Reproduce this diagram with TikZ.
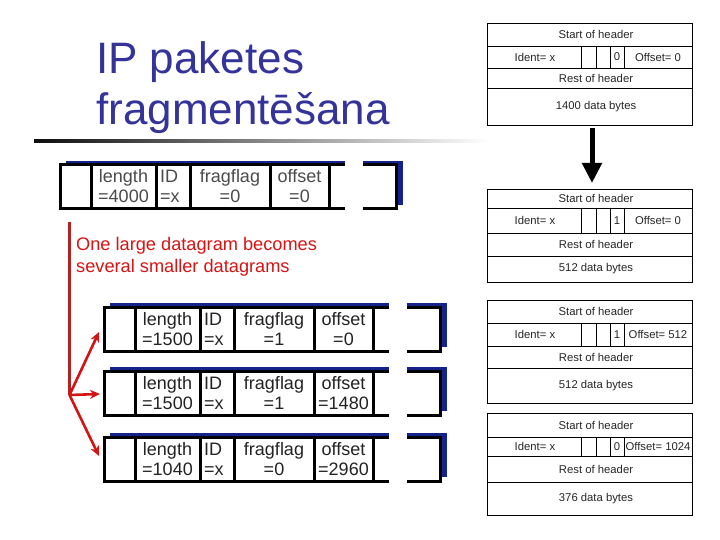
\documentclass[tikz,border=0pt]{standalone}
\usepackage{fontspec}
\setmainfont{Liberation Sans}
\usetikzlibrary{arrows.meta}
\definecolor{titleblue}{RGB}{51,51,153}
\definecolor{notered}{RGB}{215,20,20}
\definecolor{linered}{RGB}{178,34,34}
\definecolor{arrowred}{RGB}{210,20,20}
\definecolor{shadowblue}{RGB}{20,35,140}
\definecolor{pktgray}{RGB}{75,75,75}
\definecolor{pktdark}{RGB}{35,35,35}

\tikzset{
  titletxt/.style={font=\fontsize{44}{50}\selectfont, text=titleblue, inner sep=0pt, anchor=base west},
  notetxt/.style={font=\fontsize{18.2}{20}\selectfont, text=notered, inner sep=0pt, anchor=base west},
  pkttxt/.style={font=\fontsize{18}{20}\selectfont, inner sep=0pt},
  pktline/.style={line width=3pt, draw=black},
  hdrline/.style={line width=0.9pt, draw=black},
  hdrtxt/.style={font=\fontsize{11.3}{13}\selectfont, text=black!85, inner sep=0pt},
  redarrow/.style={draw=arrowred, line width=2.6pt, -{Stealth[length=10pt,width=9pt]}},
}

% fragment packet: #1 name, #2 position, #3 length, #4 fragflag, #5 offset, #6 text colour
\newcommand\pktdraw[6]{%
\begin{scope}[shift={(#2)}]
  \fill[shadowblue] (6,-4) rectangle (343,40);
  \draw[pktline, fill=white] (0,0) rectangle (336,44);
  \foreach \d in {31,96,130,210,269} \draw[pktline] (\d,0) -- (\d,44);
  \fill[white] (285,-7) rectangle (303,47);
  \node[pkttxt, text=#6, anchor=base] (#1-l1) at (63.5,18) {length};
  \node[pkttxt, text=#6, anchor=base] (#1-l2) at (63.5,38) {=#3};
  \node[pkttxt, text=#6, anchor=base west] (#1-i1) at (100,18) {ID};
  \node[pkttxt, text=#6, anchor=base west] (#1-i2) at (100,38) {=x};
  \node[pkttxt, text=#6, anchor=base] (#1-f1) at (170,18) {fragflag};
  \node[pkttxt, text=#6, anchor=base] (#1-f2) at (170,38) {=#4};
  \node[pkttxt, text=#6, anchor=base] (#1-o1) at (239.5,18) {offset};
  \node[pkttxt, text=#6, anchor=base] (#1-o2) at (239.5,38) {=#5};
\end{scope}}

% header box: #1 name, #2 top, #3 line1, #4 line2, #5 line3, #6 bottom, #7 flag, #8 offset, #9 data
\newcommand\hdrbox[9]{%
  \pgfmathsetmacro\ya{(#2+#3)/2}%
  \pgfmathsetmacro\yb{(#3+#4)/2}%
  \pgfmathsetmacro\yc{(#4+#5)/2}%
  \pgfmathsetmacro\yd{(#5+#6)/2}%
  \draw[hdrline] (487,#2) rectangle (692,#6);
  \draw[hdrline] (487,#3) -- (692,#3);
  \draw[hdrline] (487,#4) -- (692,#4);
  \draw[hdrline] (487,#5) -- (692,#5);
  \foreach \d in {581,596,610,624} \draw[hdrline] (\d,#3) -- (\d,#4);
  \node[hdrtxt] (#1-s) at (596,\ya) {Start of header};
  \node[hdrtxt] (#1-i) at (535,\yb) {Ident= x};
  \node[hdrtxt] (#1-f) at (617,\yb) {#7};
  \node[hdrtxt] (#1-o) at (658,\yb) {Offset= #8};
  \node[hdrtxt] (#1-r) at (596,\yc) {Rest of header};
  \node[hdrtxt] (#1-d) at (596,\yd) {#9 data bytes};
  \coordinate (#1-top) at (592,#2);
  \coordinate (#1-bot) at (592,#6);
}

\begin{document}
\begin{tikzpicture}[x=1pt,y=-1pt]
\useasboundingbox (0,0) rectangle (720,540);
\fill[white] (0,0) rectangle (720,540);

% title
\node[titletxt] (t1) at (96,74) {IP paketes};
\node[titletxt] (t2) at (96,125) {fragmentēšana};
\shade[left color=black!95, right color=white] (34,139.5) rectangle (488,143);

% original datagram
\pktdraw{p0}{60,165}{4000}{0}{0}{pktgray}

% note
\node[notetxt] (n1) at (76,250) {One large datagram becomes};
\node[notetxt] (n2) at (76,272) {several smaller datagrams};

% fragments
\pktdraw{p1}{104,307}{1500}{1}{0}{pktdark}
\pktdraw{p2}{104,371}{1500}{1}{1480}{pktdark}
\pktdraw{p3}{104,437}{1040}{0}{2960}{pktdark}

% red connectors
\coordinate (vtop) at (69.5,222);
\coordinate (br) at (69.5,395);
\coordinate (a1) at (99,332);
\coordinate (a2) at (100,394);
\coordinate (a3) at (99,456);
\draw[draw=linered, line width=2.2pt] (vtop) -- (br);
\draw[redarrow] (br) -- (a1);
\draw[redarrow] (br) -- (a2);
\draw[redarrow] (br) -- (a3);

% header boxes
\hdrbox{h0}{23}{46}{68}{88}{125}{0}{0}{1400}
\hdrbox{h1}{189}{208}{233}{256}{282}{1}{0}{512}
\hdrbox{h2}{300}{323}{346}{368}{403}{1}{512}{512}
\hdrbox{h3}{413}{437}{456}{482}{515}{0}{1024}{376}

\draw[line width=5pt, -{Triangle[width=19pt,length=20pt]}] ([yshift=-3pt]h0-bot) -- ([yshift=6pt]h1-top);
\end{tikzpicture}
\end{document}
